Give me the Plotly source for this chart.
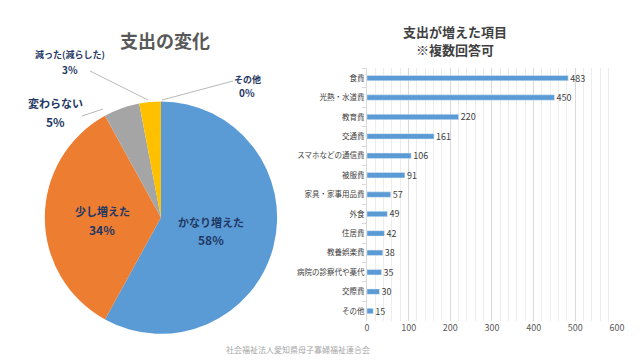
import plotly.graph_objects as go

# Pie data
pie_labels = ["かなり増えた", "少し増えた", "変わらない", "減った(減らした)", "その他"]
pie_values = [58, 34, 5, 3, 0]
pie_colors = ["#5B9BD5", "#ED7D31", "#A5A5A5", "#FFC000", "#4472C4"]

# Bar data
bar_cats = ["食費", "光熱・水道費", "教育費", "交通費", "スマホなどの通信費", "被服費",
            "家具・家事用品費", "外食", "住居費", "教養娯楽費", "病院の診察代や薬代", "交際費", "その他"]
bar_vals = [483, 450, 220, 161, 106, 91, 57, 49, 42, 38, 35, 30, 15]
x_ticks = [0, 100, 200, 300, 400, 500, 600]

FONT = "Noto Sans CJK JP"
NAVY = "#1F3864"

fig = go.Figure()

fig.add_trace(go.Pie(
    labels=pie_labels, values=pie_values, sort=False, direction="clockwise",
    rotation=0, marker=dict(colors=pie_colors, line=dict(color="white", width=0)),
    textinfo="none", hoverinfo="label+percent", showlegend=False,
    domain=dict(x=[0.070, 0.433], y=[0.069, 0.722]),
))

fig.add_trace(go.Bar(
    y=bar_cats, x=bar_vals, orientation="h", width=0.28,
    marker=dict(color="#5B9BD5"), texttemplate=" %{x}",
    textposition="outside", cliponaxis=False, constraintext="none",
    textfont=dict(family=FONT, size=9, color="#404040"),
    showlegend=False, xaxis="x", yaxis="y",
))

fig.update_layout(
    width=640, height=360,
    margin=dict(l=0, r=0, t=0, b=0),
    paper_bgcolor="white", plot_bgcolor="white",
    font=dict(family=FONT),
    xaxis=dict(domain=[0.5734, 0.964], range=[0, 600], tickvals=x_ticks,
               showgrid=True, gridcolor="#D9D9D9", gridwidth=1,
               minor=dict(dtick=20, showgrid=True, gridcolor="#EDEDED", gridwidth=1),
               zeroline=False, showline=False, automargin=False,
               tickfont=dict(size=9, color="#595959"), ticks=""),
    yaxis=dict(domain=[0.109, 0.810], autorange="reversed", categoryorder="array",
               categoryarray=bar_cats, showline=True, linecolor="#D9D9D9",
               ticks="outside", tickson="boundaries", tickcolor="#D9D9D9", ticklen=4,
               automargin=False,
               tickfont=dict(size=7.5, color="#404040"), showgrid=False),
    bargap=0.7,
)

ann = []
def A(x, y, text, size, color, bold=False, **kw):
    t = f"<b>{text}</b>" if bold else text
    ann.append(dict(x=x, y=y, xref="paper", yref="paper", text=t, showarrow=False,
                    xanchor="center", yanchor="middle",
                    font=dict(family=FONT, size=size, color=color), **kw))

A(165/640, 1-40/360, "支出の変化", 18, "#595959", True)
A(455/640, 1-31/360, "支出が増えた項目", 13, "#404040", True)
A(455/640, 1-50/360, "※複数回答可", 13, "#404040", True)
A(298/640, 1-349/360, "社会福祉法人愛知県母子寡婦福祉連合会", 8, "#A6A6A6")

# pie labels: (x, y_name, y_pct, size)
label_pos = [(211, 222, 239, 11), (102, 211, 229, 11), (55, 103, 121, 11),
             (70, 54, 69, 9), (247, 79, 93, 9)]
for lab, val, (x, yn, yp, s) in zip(pie_labels, pie_values, label_pos):
    A(x/640, 1-yn/360, lab, s, NAVY, True)
    A(x/640, 1-yp/360, f"{val}%", s + 1, NAVY, True)
fig.update_layout(annotations=ann)

# leader lines
for (x0, y0, x1, y1) in [(82, 116, 103, 109), (90, 71, 148, 100), (233, 81, 162, 100)]:
    fig.add_shape(type="line", xref="paper", yref="paper",
                  x0=x0/640, y0=1-y0/360, x1=x1/640, y1=1-y1/360,
                  line=dict(color="#A6A6A6", width=0.8))

fig.write_html("out.html", config={"displayModeBar": False},
               post_script="document.body.style.margin='0';document.body.style.overflow='hidden';")
